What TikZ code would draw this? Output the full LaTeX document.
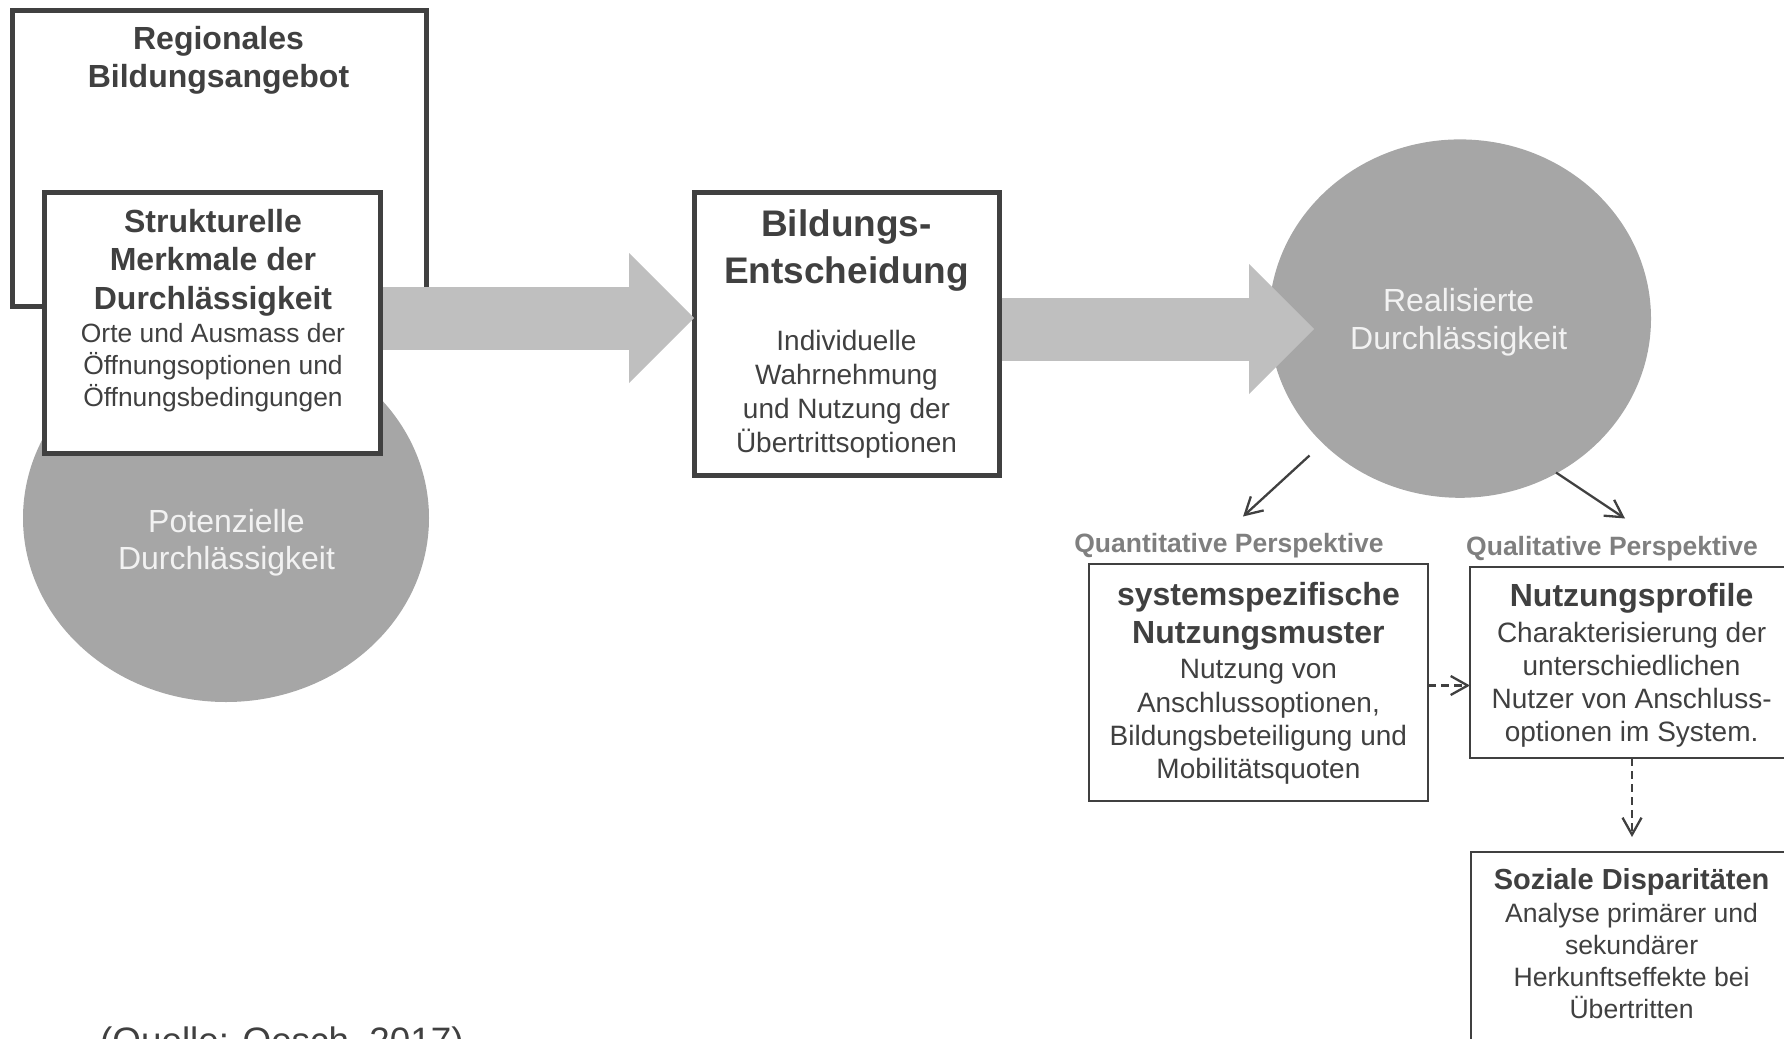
\documentclass[tikz,border=0pt]{standalone}
\usepackage{fontspec}
\setmainfont{Liberation Sans}
\usetikzlibrary{shapes.geometric,arrows.meta}
\definecolor{ink}{HTML}{404040}
\definecolor{discgray}{HTML}{A6A6A6}
\definecolor{flowgray}{HTML}{BFBFBF}
\definecolor{persgray}{HTML}{7F7F7F}
\definecolor{disctext}{HTML}{F2F2F2}

\begin{document}
\begin{tikzpicture}[x=1pt,y=-1pt]
\tikzstyle{thickbox}=[rectangle, draw=ink, line width=5pt, fill=white,
	outer sep=0pt, inner sep=0pt]
\tikzstyle{thinbox}=[rectangle, draw=ink, line width=2pt, fill=white,
	outer sep=0pt, inner sep=0pt]
\tikzstyle{disc}=[ellipse, fill=discgray, inner sep=0pt, outer sep=0pt]
\tikzstyle{txt}=[text=ink, align=center, inner sep=0pt]
\tikzstyle{disctxt}=[text=disctext, align=center, inner sep=0pt,
	font=\fontsize{32}{37.6}\selectfont]
\tikzstyle{perstxt}=[text=persgray, anchor=base, inner sep=0pt,
	font=\bfseries\fontsize{26.5}{30}\selectfont]
\tikzstyle{flow}=[draw=flowgray, line width=63pt,
	-{Triangle[length=65pt,width=130pt,line width=0pt]}]
\tikzstyle{pointer}=[draw=ink, line width=2.3pt,
	-{Straight Barb[length=17pt,width=19pt]}]
\tikzstyle{dashpointer}=[pointer, dash pattern=on 8pt off 5pt]
\useasboundingbox (0,0) rectangle (1784,1038);

% left block
\node[thickbox, minimum width=414pt, minimum height=296pt] (reg) at (219.5,158.5) {};
\node[txt, font=\bfseries\fontsize{32}{37.5}\selectfont] (regtxt) at (218.5,60.3)
	{Regionales\\Bildungsangebot};
\node[disc, minimum width=406pt, minimum height=368pt] (pot) at (226,518) {};
\node[disctxt] (pottxt) at (226.5,542.7) {Potenzielle\\Durchlässigkeit};
\node[thickbox, minimum width=336pt, minimum height=261pt] (struk) at (212.5,323) {};
\node[txt, font=\fontsize{26.4}{32}\selectfont] (struktxt) at (213,310.3)
	{{\bfseries\fontsize{32}{32}\selectfont Strukturelle}\\[6.5pt]
	{\bfseries\fontsize{32}{32}\selectfont Merkmale der}\\[6.5pt]
	{\bfseries\fontsize{32}{32}\selectfont Durchlässigkeit}\\[1pt]
	Orte und Ausmass der\\ Öffnungsoptionen und\\ Öffnungsbedingungen};

% decision
\node[thickbox, minimum width=305pt, minimum height=283pt] (ent) at (846.5,334) {};
\node[txt, font=\fontsize{28}{33.8}\selectfont] (enttxt) at (846.5,333.6)
	{{\bfseries\fontsize{37}{37}\selectfont Bildungs-}\\[11.9pt]
	{\bfseries\fontsize{37}{37}\selectfont Entscheidung}\\[33.3pt]
	Individuelle\\ Wahrnehmung\\ und Nutzung der\\ Übertrittsoptionen};

% realised
\node[disc, minimum width=382pt, minimum height=358.4pt] (real) at (1460,318.6) {};

\draw[flow] ([xshift=2.5pt,yshift=5pt]struk.east) -- ([yshift=16pt]ent.west);
\draw[flow] ([xshift=2.5pt,yshift=5pt]ent.east) -- ([xshift=45pt,yshift=-10.4pt]real.west);

\node[disctxt] (realtxt) at (1458.7,322) {Realisierte\\Durchlässigkeit};

% perspectives
\node[perstxt] (quant) at (1229,552) {Quantitative Perspektive};
\node[perstxt] (qual) at (1612,555) {Qualitative Perspektive};
\coordinate (qfrom) at (1309.5,455.5);
\coordinate (qto) at (1243,516.5);
\coordinate (lfrom) at (1556,472.5);
\coordinate (lto) at (1625,518.5);
\draw[pointer] (qfrom) -- (qto);
\draw[pointer] (lfrom) -- (lto);

\node[thinbox, minimum width=339pt, minimum height=237pt] (sys) at (1258.5,682.5) {};
\node[txt, font=\fontsize{28}{33.3}\selectfont] (systxt) at (1258.4,683.3)
	{{\bfseries\fontsize{32}{32}\selectfont systemspezifische}\\[5.3pt]
	{\bfseries\fontsize{32}{32}\selectfont Nutzungsmuster}\\[1.7pt]
	Nutzung von\\ Anschlussoptionen,\\ Bildungsbeteiligung und\\ Mobilitätsquoten};

\node[thinbox, minimum width=324pt, minimum height=191.5pt] (nutz) at (1632,662.25) {};
\node[txt, font=\fontsize{28}{33}\selectfont] (nutztxt) at (1631.6,665)
	{{\bfseries\fontsize{32}{32}\selectfont Nutzungsprofile}\\[3.2pt]
	Charakterisierung der\\ unterschiedlichen\\ Nutzer von Anschluss-\\ optionen im System.};

\node[thinbox, minimum width=322pt, minimum height=207pt] (soz) at (1632,955.5) {};
\node[txt, font=\fontsize{26.6}{31.9}\selectfont] (soztxt) at (1631.6,943.5)
	{{\bfseries\fontsize{29}{29}\selectfont Soziale Disparitäten}\\[1.3pt]
	Analyse primärer und\\ sekundärer\\ Herkunftseffekte bei\\ Übertritten};

\draw[dashpointer] ([yshift=-3pt]sys.east) -- ([yshift=-3pt]sys.east -| nutz.west);
\draw[dashpointer] (nutz.south) -- ([yshift=15pt]soz.north);

\node[txt, anchor=base west, font=\fontsize{36.8}{44}\selectfont] (quelle) at (100,1053)
	{(Quelle: Oesch, 2017)};

\end{tikzpicture}
\end{document}
